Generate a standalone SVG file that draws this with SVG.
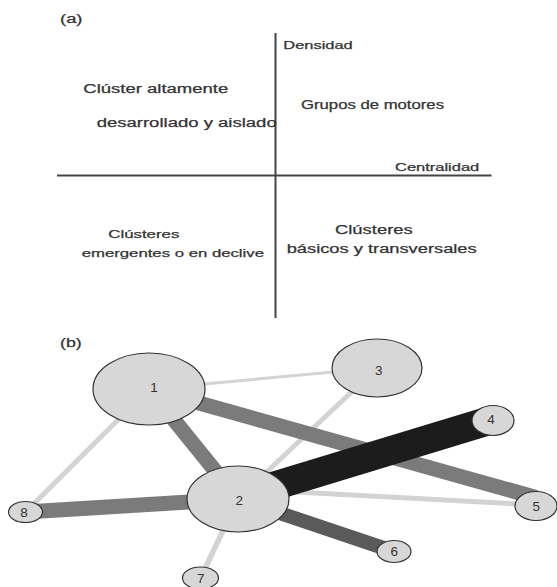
<svg xmlns="http://www.w3.org/2000/svg" width="557" height="587" viewBox="0 0 557 587">
<style>
.t{font-family:"Liberation Sans",Arial,sans-serif;fill:#333;stroke:#333;stroke-width:0.25}
.ax{stroke:#444;stroke-width:2;fill:none}
.n ellipse{fill:#d7d7d7;stroke:#333;stroke-width:1.2}
.n text{font-family:"Liberation Sans",Arial,sans-serif;font-size:13.5px;fill:#333;text-anchor:middle}
.lt{stroke:#d3d3d3;fill:none}
.md{stroke:#7b7b7b;fill:none}
.dk{stroke:#5a5a5a;fill:none}
.bk{stroke:#1c1c1c;fill:none}
</style>
<rect width="557" height="587" fill="#fff"/>
<g id="panel-a">
<text class="t" x="60" y="23" font-size="12" textLength="22.5" lengthAdjust="spacingAndGlyphs">(a)</text>
<line class="ax" x1="275.5" y1="33" x2="275.5" y2="318"/>
<line class="ax" x1="57" y1="175.5" x2="491.5" y2="175.5"/>
<text class="t" x="283.3" y="49.3" font-size="11" textLength="69.4" lengthAdjust="spacingAndGlyphs">Densidad</text>
<text class="t" x="83.3" y="92.7" font-size="12.5" textLength="145" lengthAdjust="spacingAndGlyphs">Clúster altamente</text>
<text class="t" x="301" y="109" font-size="12.5" textLength="143" lengthAdjust="spacingAndGlyphs">Grupos de motores</text>
<text class="t" x="96.7" y="126.7" font-size="12.5" textLength="180" lengthAdjust="spacingAndGlyphs">desarrollado y aislado</text>
<text class="t" x="395" y="170.7" font-size="11.5" textLength="84.3" lengthAdjust="spacingAndGlyphs">Centralidad</text>
<text class="t" x="108.3" y="237.7" font-size="11.5" textLength="71" lengthAdjust="spacingAndGlyphs">Clústeres</text>
<text class="t" x="81.7" y="257.3" font-size="11.5" textLength="182.3" lengthAdjust="spacingAndGlyphs">emergentes o en declive</text>
<text class="t" x="335" y="234" font-size="12.5" textLength="77.7" lengthAdjust="spacingAndGlyphs">Clústeres</text>
<text class="t" x="286.7" y="253.3" font-size="12.5" textLength="190" lengthAdjust="spacingAndGlyphs">básicos y transversales</text>
</g>
<text class="t" x="60" y="346.5" font-size="12" textLength="21.7" lengthAdjust="spacingAndGlyphs">(b)</text>
<g id="edges">
<line class="lt" x1="149" y1="389" x2="377" y2="368" stroke-width="3"/>
<line class="lt" x1="149" y1="389" x2="25.5" y2="512" stroke-width="5"/>
<line class="lt" x1="238" y1="499" x2="377" y2="368" stroke-width="5"/>
<line class="lt" x1="238" y1="489" x2="536" y2="505" stroke-width="5"/>
<line class="lt" x1="238" y1="499" x2="200.5" y2="578" stroke-width="5.5"/>
<line class="md" x1="149" y1="389" x2="536" y2="497.5" stroke-width="15"/>
<line class="md" x1="149" y1="389" x2="238" y2="499" stroke-width="15"/>
<line class="md" x1="25.5" y1="512" x2="238" y2="499" stroke-width="15"/>
<line class="dk" x1="238" y1="499" x2="394" y2="551.5" stroke-width="14"/>
<line class="bk" x1="238" y1="497" x2="493" y2="419.5" stroke-width="29"/>
</g>
<g id="node1" class="n"><ellipse cx="149" cy="389" rx="56" ry="36"/><text x="154" y="392">1</text></g>
<g id="node2" class="n"><ellipse cx="238" cy="499" rx="51" ry="33"/><text x="239.3" y="505">2</text></g>
<g id="node3" class="n"><ellipse cx="377" cy="368" rx="45" ry="29"/><text x="378.7" y="374.5">3</text></g>
<g id="node4" class="n"><ellipse cx="493" cy="420.5" rx="21" ry="15"/><text x="491" y="424">4</text></g>
<g id="node5" class="n"><ellipse cx="536" cy="506" rx="21" ry="14.5"/><text x="536.3" y="511">5</text></g>
<g id="node6" class="n"><ellipse cx="394" cy="551.5" rx="17" ry="11"/><text x="394.3" y="556">6</text></g>
<g id="node7" class="n"><ellipse cx="200.5" cy="578" rx="18" ry="11"/><text x="200.7" y="582.5">7</text></g>
<g id="node8" class="n"><ellipse cx="25.5" cy="512" rx="17" ry="10.5"/><text x="24" y="516.5">8</text></g>
</svg>
